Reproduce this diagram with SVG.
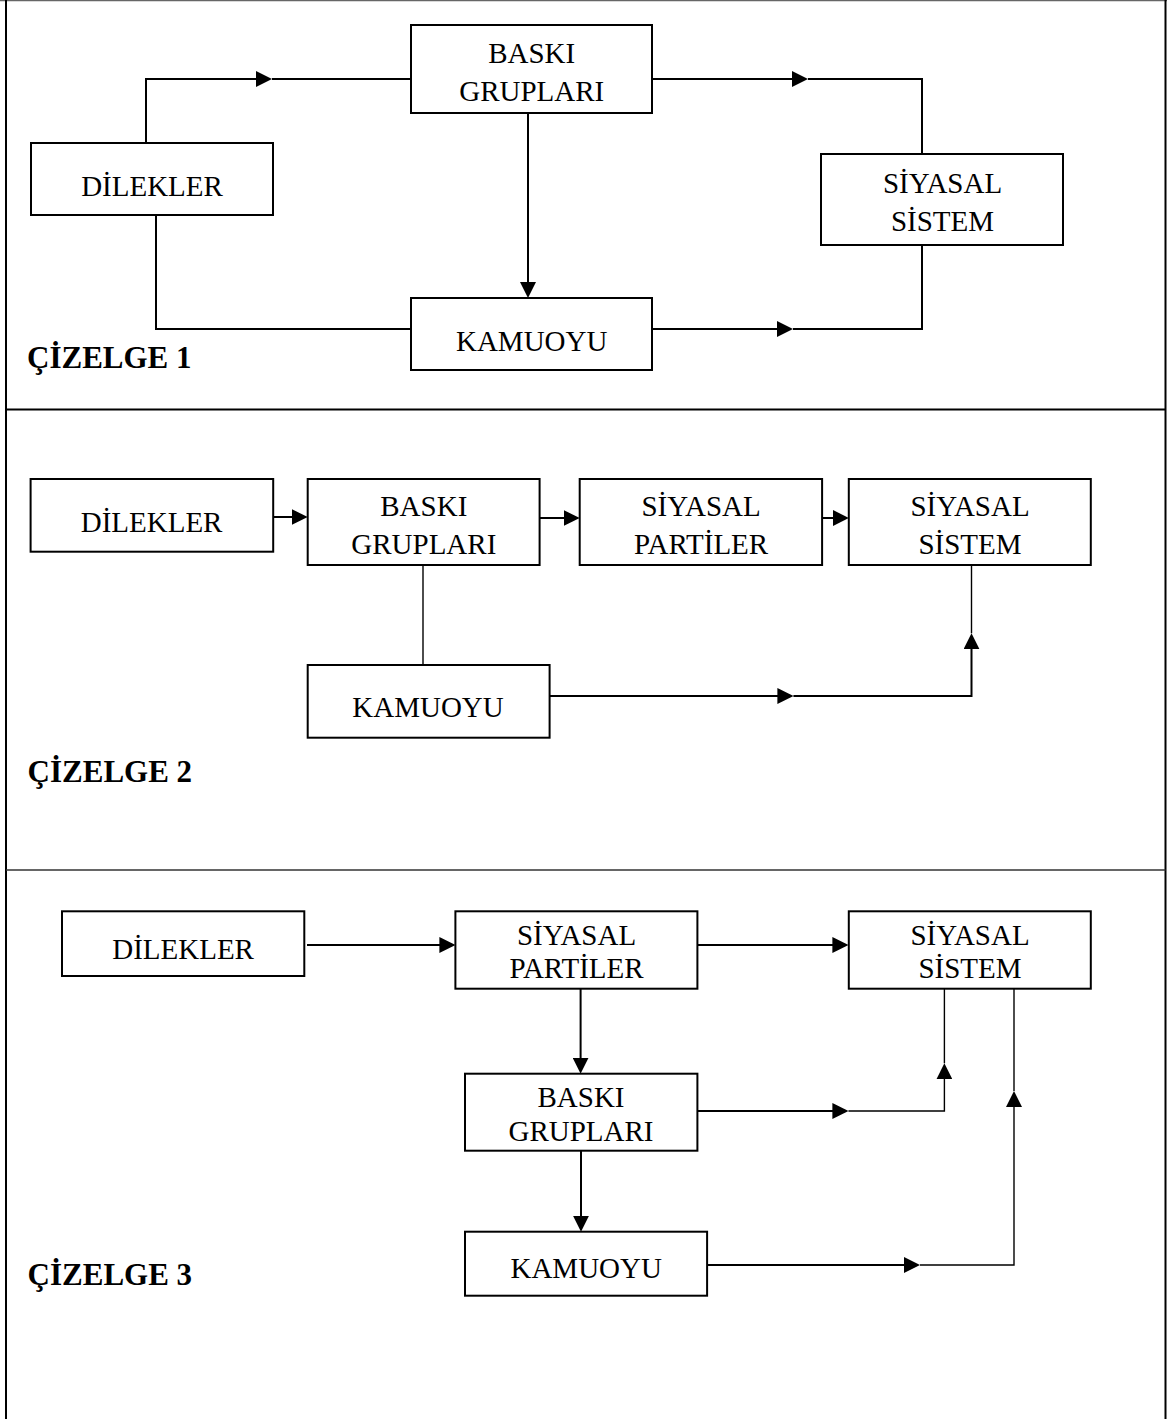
<svg xmlns="http://www.w3.org/2000/svg" width="1167" height="1419" viewBox="0 0 1167 1419">
  <style>
    .bg { fill: #ffffff; }
    .box { fill: #ffffff; stroke: #000000; stroke-width: 2; }
    .lbl { font-family: "Liberation Serif", "Times New Roman", serif; font-size: 29px; fill: #000000; text-anchor: middle; }
    .title { font-family: "Liberation Serif", "Times New Roman", serif; font-size: 31px; font-weight: bold; fill: #000000; }
    .ln { fill: none; stroke: #000000; stroke-width: 2; }
    .thin { fill: none; stroke: #000000; stroke-width: 1.4; }
    .arr { marker-end: url(#head); }
    .frame { stroke: #000000; stroke-width: 2; fill: none; }
  </style>
  <defs>
    <marker id="head" viewBox="0 0 16 16" refX="8" refY="8" markerWidth="16" markerHeight="16" markerUnits="userSpaceOnUse" orient="auto">
      <path d="M0,0 L16,8 L0,16 Z" fill="#000000"/>
    </marker>
  </defs>

  <rect class="bg" x="0" y="0" width="1167" height="1419"/>

  <!-- page frame and panel dividers -->
  <g id="frame">
    <line x1="0" y1="0.5" x2="1167" y2="0.5" stroke="#666666" stroke-width="1.5"/>
    <line class="frame" x1="6" y1="0" x2="6" y2="1419"/>
    <line class="frame" x1="1165.5" y1="0" x2="1165.5" y2="1419"/>
    <line class="frame" x1="6" y1="409.5" x2="1165.5" y2="409.5"/>
    <line x1="6" y1="870" x2="1165.5" y2="870" stroke="#333333" stroke-width="1.6"/>
  </g>

  <!-- connectors -->
  <g id="connectors">
    <!-- chart 1 -->
    <path class="ln arr" d="M146,143 V79 H264"/>
    <path class="ln" d="M272,79 H411"/>
    <path class="ln arr" d="M528,113 V290"/>
    <path class="ln" d="M156,215 V329 H411"/>
    <path class="ln arr" d="M652,79 H800"/>
    <path class="ln" d="M808,79 H922 V154"/>
    <path class="ln arr" d="M652,329 H785"/>
    <path class="ln" d="M793,329 H922 V245"/>

    <!-- chart 2 -->
    <path class="ln arr" d="M272,517 H299.7"/>
    <path class="ln arr" d="M539.6,518 H571.7"/>
    <path class="ln arr" d="M822,518 H840.8"/>
    <path class="thin" d="M423,565 V665"/>
    <path class="ln arr" d="M549.6,696 H785.4"/>
    <path class="ln arr" d="M793.4,696 H971.5 V641.3"/>
    <path class="thin" d="M971.5,633.3 V565"/>

    <!-- chart 3 -->
    <path class="ln arr" d="M307,945 H447.4"/>
    <path class="ln arr" d="M697.4,945 H840.4"/>
    <path class="ln arr" d="M580.6,988.7 V1065.7"/>
    <path class="ln arr" d="M581,1150.7 V1223.7"/>
    <path class="ln arr" d="M697.4,1111 H840.4"/>
    <path class="thin arr" d="M848.4,1111 H944.4 V1071.3"/>
    <path class="thin" d="M944.4,1063.3 V988.7"/>
    <path class="ln arr" d="M707,1265 H912"/>
    <path class="thin arr" d="M920,1265 H1014 V1099"/>
    <path class="thin" d="M1014,1091 V988.7"/>
  </g>

  <!-- chart 1 nodes -->
  <g id="c1-dilekler">
    <rect class="box" x="31" y="143" width="242" height="72"/>
    <text class="lbl" x="152" y="196">DİLEKLER</text>
  </g>
  <g id="c1-baski">
    <rect class="box" x="411" y="25" width="241" height="88"/>
    <text class="lbl" x="531.7" y="62.7">BASKI</text>
    <text class="lbl" x="531.7" y="100.7">GRUPLARI</text>
  </g>
  <g id="c1-kamuoyu">
    <rect class="box" x="411" y="298" width="241" height="72"/>
    <text class="lbl" x="531.7" y="350.7">KAMUOYU</text>
  </g>
  <g id="c1-sistem">
    <rect class="box" x="821" y="154" width="242" height="91"/>
    <text class="lbl" x="942.5" y="192.7">SİYASAL</text>
    <text class="lbl" x="942.5" y="231">SİSTEM</text>
  </g>
  <text class="title" x="27" y="368">ÇİZELGE 1</text>

  <!-- chart 2 nodes -->
  <g id="c2-dilekler">
    <rect class="box" x="30.6" y="479" width="242.6" height="72.7"/>
    <text class="lbl" x="151.6" y="531.7">DİLEKLER</text>
  </g>
  <g id="c2-baski">
    <rect class="box" x="307.7" y="479" width="231.9" height="86"/>
    <text class="lbl" x="423.8" y="515.7">BASKI</text>
    <text class="lbl" x="423.8" y="554.3">GRUPLARI</text>
  </g>
  <g id="c2-partiler">
    <rect class="box" x="579.7" y="479" width="242.4" height="86"/>
    <text class="lbl" x="701.1" y="515.7">SİYASAL</text>
    <text class="lbl" x="701.1" y="554">PARTİLER</text>
  </g>
  <g id="c2-sistem">
    <rect class="box" x="848.8" y="479" width="242" height="86"/>
    <text class="lbl" x="970" y="515.7">SİYASAL</text>
    <text class="lbl" x="970" y="554">SİSTEM</text>
  </g>
  <g id="c2-kamuoyu">
    <rect class="box" x="307.7" y="665" width="241.9" height="72.7"/>
    <text class="lbl" x="428" y="716.7">KAMUOYU</text>
  </g>
  <text class="title" x="27.6" y="781.7">ÇİZELGE 2</text>

  <!-- chart 3 nodes -->
  <g id="c3-dilekler">
    <rect class="box" x="62" y="911.3" width="242.3" height="64.7"/>
    <text class="lbl" x="183.1" y="959.3">DİLEKLER</text>
  </g>
  <g id="c3-partiler">
    <rect class="box" x="455.4" y="911.3" width="242" height="77.4"/>
    <text class="lbl" x="576.5" y="945">SİYASAL</text>
    <text class="lbl" x="576.5" y="978.3">PARTİLER</text>
  </g>
  <g id="c3-sistem">
    <rect class="box" x="848.8" y="911.3" width="242" height="77.4"/>
    <text class="lbl" x="970" y="945">SİYASAL</text>
    <text class="lbl" x="970" y="978.3">SİSTEM</text>
  </g>
  <g id="c3-baski">
    <rect class="box" x="465" y="1073.7" width="232.4" height="77"/>
    <text class="lbl" x="581" y="1106.7">BASKI</text>
    <text class="lbl" x="581" y="1140.7">GRUPLARI</text>
  </g>
  <g id="c3-kamuoyu">
    <rect class="box" x="465" y="1231.7" width="242.1" height="64"/>
    <text class="lbl" x="586.2" y="1278.3">KAMUOYU</text>
  </g>
  <text class="title" x="27.6" y="1285">ÇİZELGE 3</text>
</svg>
